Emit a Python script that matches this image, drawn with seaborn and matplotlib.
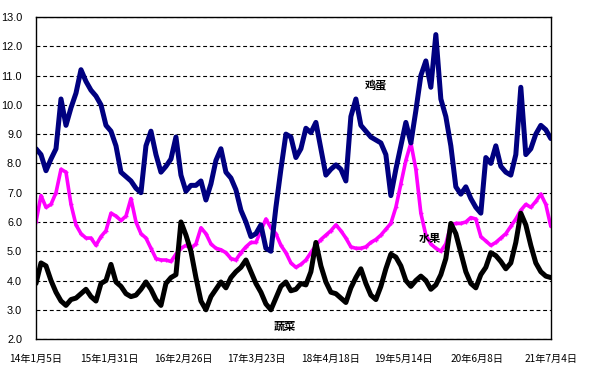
import matplotlib
matplotlib.use("Agg")
import matplotlib.pyplot as plt
from matplotlib import font_manager
import seaborn as sns
import pandas as pd

# sampling dates across the plotted period (104 points, ~26.6 days apart)
dates = pd.date_range("2014-01-05", "2021-07-04", periods=104)

egg = [
    8.5, 8.3, 7.75, 8.15, 8.5, 10.2, 9.3, 9.9, 10.4, 11.2,
    10.8, 10.5, 10.3, 10.0, 9.3, 9.1, 8.6, 7.7, 7.55, 7.4,
    7.15, 7.0, 8.6, 9.1, 8.3, 7.7, 7.9, 8.15, 8.9, 7.6,
    7.05, 7.25, 7.25, 7.4, 6.75, 7.3, 8.1, 8.5, 7.7, 7.5,
    7.1, 6.4, 6.0, 5.5, 5.6, 5.9, 5.1, 5.0, 6.5, 7.8,
    9.0, 8.9, 8.2, 8.5, 9.2, 9.05, 9.4, 8.5, 7.6, 7.8,
    7.95, 7.8, 7.4, 9.6, 10.2, 9.3, 9.1, 8.9, 8.8, 8.7,
    8.3, 6.9, 7.8, 8.6, 9.4, 8.7, 9.8, 11.0, 11.5, 10.6,
    12.4, 10.2, 9.6, 8.6, 7.2, 6.95, 7.2, 6.8, 6.5, 6.3,
    8.2, 8.0, 8.6, 7.9, 7.7, 7.6, 8.3, 10.6, 8.3, 8.5,
    9.0, 9.3, 9.15, 8.85,
]

fruit = [
    6.0, 6.9, 6.5, 6.6, 7.0, 7.8, 7.7, 6.6, 5.9, 5.6,
    5.45, 5.45, 5.2, 5.5, 5.7, 6.3, 6.2, 6.05, 6.2, 6.8,
    6.0, 5.6, 5.45, 5.1, 4.75, 4.7, 4.7, 4.65, 4.9, 5.1,
    5.2, 5.1, 5.25, 5.8, 5.6, 5.25, 5.1, 5.05, 4.95, 4.75,
    4.7, 4.95, 5.15, 5.3, 5.3, 5.7, 6.1, 5.8, 5.6, 5.2,
    4.95, 4.6, 4.45, 4.55, 4.7, 4.95, 5.2, 5.4, 5.55, 5.7,
    5.9, 5.7, 5.45, 5.15, 5.1, 5.1, 5.15, 5.3, 5.4, 5.55,
    5.75, 5.95, 6.5, 7.3, 8.1, 8.7, 7.8, 6.3, 5.55, 5.25,
    5.1, 5.0, 5.25, 5.9, 5.95, 5.95, 6.0, 6.15, 6.1, 5.5,
    5.35, 5.2, 5.3, 5.45, 5.6, 5.85, 6.1, 6.4, 6.6, 6.5,
    6.7, 6.95, 6.6, 5.85,
]

veg = [
    3.9, 4.6, 4.5, 4.0, 3.6, 3.3, 3.15, 3.35, 3.4, 3.55,
    3.7, 3.45, 3.3, 3.9, 4.0, 4.55, 3.95, 3.8, 3.55, 3.45,
    3.5, 3.7, 3.95, 3.7, 3.35, 3.15, 3.9, 4.1, 4.2, 6.0,
    5.55, 5.0, 4.1, 3.3, 3.0, 3.45, 3.7, 3.95, 3.75, 4.1,
    4.3, 4.45, 4.7, 4.3, 3.9, 3.6, 3.2, 3.0, 3.4, 3.8,
    3.95, 3.65, 3.7, 3.9, 3.85, 4.3, 5.3, 4.5, 3.95, 3.6,
    3.55, 3.4, 3.25, 3.75, 4.1, 4.4, 3.9, 3.5, 3.35, 3.8,
    4.4, 4.9, 4.8, 4.5, 4.0, 3.8, 4.0, 4.15, 4.0, 3.7,
    3.85, 4.2, 4.75, 5.95, 5.6, 4.95, 4.3, 3.9, 3.75, 4.2,
    4.45, 4.95, 4.85, 4.65, 4.4, 4.6, 5.3, 6.3, 5.9, 5.2,
    4.6, 4.3, 4.15, 4.1,
]

tick_dates = pd.to_datetime([
    "2014-01-05", "2015-01-31", "2016-02-26", "2017-03-23",
    "2018-04-18", "2019-05-14", "2020-06-08", "2021-07-04",
])
tick_labels = ["14年1月5日", "15年1月31日", "16年2月26日", "17年3月23日",
               "18年4月18日", "19年5月14日", "20年6月8日", "21年7月4日"]

series_names = ["鸡蛋", "水果", "蔬菜"]
label_pos = [("2018-12-17", 10.68), ("2019-09-30", 5.45), ("2017-08-20", 2.44)]

sns.set_style("white")
names = {f.name for f in font_manager.fontManager.ttflist}
num_font = "Liberation Sans Narrow" if "Liberation Sans Narrow" in names else "Liberation Sans"
plt.rcParams["font.family"] = ["Noto Sans CJK SC", "DejaVu Sans"]

df = pd.DataFrame({"date": dates, "鸡蛋": egg, "水果": fruit, "蔬菜": veg})

fig = plt.figure(figsize=(6, 3.78), dpi=100)
ax = fig.add_axes([0.06, 0.103, 0.858, 0.852])

sns.lineplot(data=df, x="date", y="水果", ax=ax, color="#FF00FF", lw=2.6,
             marker="+", markersize=3, markeredgewidth=1, markeredgecolor="#FF00FF")
sns.lineplot(data=df, x="date", y="蔬菜", ax=ax, color="black", lw=3.6)
sns.lineplot(data=df, x="date", y="鸡蛋", ax=ax, color="#000080", lw=3.6)

ax.set_xlim(dates[0], dates[-1])
ax.set_ylim(2.0, 13.0)
ax.set_yticks([2 + k for k in range(12)])
ax.set_yticklabels([f"{2 + k:.1f}" for k in range(12)], fontfamily=num_font, fontsize=7.8)
ax.set_xticks(tick_dates)
ax.set_xticklabels(tick_labels, fontsize=7.3)
ax.tick_params(axis="x", direction="in", length=4, width=0.8, pad=11, colors="black")
ax.tick_params(axis="y", length=0, pad=10, colors="black")
ax.set_xlabel("")
ax.set_ylabel("")

ax.set_axisbelow(True)
ax.yaxis.grid(True, linestyle=(0, (3.5, 2.5)), color="black", lw=0.8)
ax.xaxis.grid(False)
for s in ax.spines.values():
    s.set_visible(True)
    s.set_color("black")
    s.set_linewidth(1.0)

for name, (d, y) in zip(series_names, label_pos):
    ax.text(pd.Timestamp(d), y, name, fontsize=8, fontweight="bold",
            ha="center", va="center", color="black")

fig.savefig("out.png", dpi=100)
